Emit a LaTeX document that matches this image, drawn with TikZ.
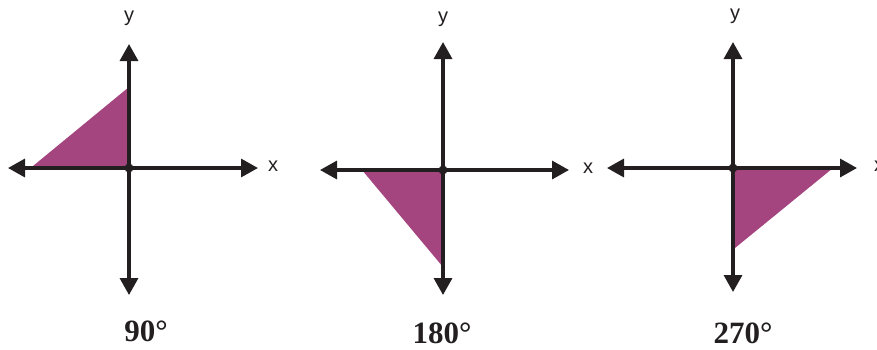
\documentclass[tikz,border=0pt]{standalone}
\usepackage{fontspec}
\setmainfont{Liberation Serif}
\setsansfont{Liberation Sans}
\usetikzlibrary{arrows.meta}
\definecolor{axis}{HTML}{231F20}
\definecolor{fillm}{HTML}{A4457F}
\tikzset{
  axisline/.style={draw=axis, line width=3.3pt, {Triangle[length=17pt,width=18pt]}-{Triangle[length=17pt,width=18pt]}},
  axlabel/.style={font=\sffamily\fontsize{20}{20}\selectfont, text=axis, inner sep=0pt},
  deglabel/.style={font=\bfseries\fontsize{31}{31}\selectfont, text=axis, inner sep=0pt},
  tri/.style={fill=fillm, draw=none},
  origin/.style={circle, fill=axis, inner sep=0pt, minimum size=9pt}
}
\begin{document}
\begin{tikzpicture}[x=1pt,y=-1pt]
\useasboundingbox (0,0) rectangle (877,349);
% Panel 1
\coordinate (aL) at (8,168); \coordinate (aR) at (258,168);
\coordinate (aT) at (129,44); \coordinate (aB) at (129,295);
\fill[tri] (33,166) -- (129,166) -- (129,87) -- cycle;
\draw[axisline] (aL) -- (aR);
\draw[axisline] (aB) -- (aT);
\node[origin] (o1) at (129,168) {};
\node[axlabel] (y1) at (129,18) {y};
\node[axlabel] (x1) at (273,166) {x};
\node[deglabel] (d1) at (146,331) {90°};
% Panel 2
\coordinate (bL) at (320,170); \coordinate (bR) at (569,170);
\coordinate (bT) at (443,42); \coordinate (bB) at (443,295);
\fill[tri] (362,170) -- (443,170) -- (443,267) -- cycle;
\draw[axisline] (bL) -- (bR);
\draw[axisline] (bB) -- (bT);
\node[origin] (o2) at (443,170) {};
\node[axlabel] (y2) at (443,19) {y};
\node[axlabel] (x2) at (588,168) {x};
\node[deglabel] (d2) at (442,333) {180°};
% Panel 3
\coordinate (cL) at (607,168); \coordinate (cR) at (857,168);
\coordinate (cT) at (733,42); \coordinate (cB) at (733,292);
\fill[tri] (735,168) -- (833,168) -- (735,248) -- cycle;
\draw[axisline] (cL) -- (cR);
\draw[axisline] (cB) -- (cT);
\node[origin] (o3) at (733,168) {};
\node[axlabel] (y3) at (735,16) {y};
\node[axlabel] (x3) at (879,166) {x};
\node[deglabel] (d3) at (743,333) {270°};
\end{tikzpicture}
\end{document}
